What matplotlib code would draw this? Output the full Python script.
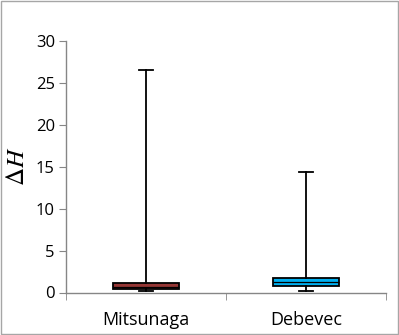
import matplotlib
matplotlib.use("Agg")
import matplotlib.pyplot as plt
from matplotlib.patches import Rectangle

categories = ["Mitsunaga", "Debevec"]
whisker_low = [0.15, 0.18]
q1 = [0.38, 0.75]
median = [0.7, 1.25]
q3 = [1.1, 1.73]
whisker_high = [26.6, 14.4]
fills = ["#943634", "#00B0F0"]
yticks = [0, 5, 10, 15, 20, 25, 30]

plt.rcParams['font.family'] = ['Open Sans', 'DejaVu Sans']
plt.rcParams['mathtext.fontset'] = 'stix'
fig = plt.figure(figsize=(3.99, 3.35), dpi=100)
ax = fig.add_axes([66/399, 1-292.5/335, 320/399, (292.5-41)/335])

stats = []
for i, c in enumerate(categories):
    stats.append(dict(label=c, whislo=whisker_low[i], q1=q1[i], med=median[i],
                      q3=q3[i], whishi=whisker_high[i], fliers=[]))
bp = ax.bxp(stats, positions=[1, 2], widths=0.41, patch_artist=True,
            showfliers=False,
            boxprops=dict(edgecolor='black', linewidth=1.3),
            medianprops=dict(color='black', linewidth=0.9),
            whiskerprops=dict(color='black', linewidth=1.3),
            capprops=dict(color='black', linewidth=1.3),
            capwidths=0.09)
for patch, col in zip(bp['boxes'], fills):
    patch.set_facecolor(col)

axcol = '#868686'
ax.set_xlim(0.5, 2.5)
ax.set_ylim(0, 30)
ax.set_yticks(yticks)
ax.set_xticks([1, 2])
ax.set_xticklabels(categories)
ax.set_xticks([0.5, 1.5, 2.5], minor=True)
ax.tick_params(axis='x', which='major', length=0, pad=13, labelsize=13)
ax.tick_params(axis='x', which='minor', length=5, color=axcol, direction='out')
ax.tick_params(axis='y', length=5, color=axcol, direction='out', labelsize=12, pad=3)
for s in ['top', 'right']:
    ax.spines[s].set_visible(False)
for s in ['left', 'bottom']:
    ax.spines[s].set_color(axcol)
    ax.spines[s].set_linewidth(1)
ax.set_ylabel(r'$\Delta H$', fontsize=18, labelpad=4)

fig.patches.append(Rectangle((0.0015, 0.0015), 0.997, 0.997, transform=fig.transFigure,
                             fill=False, edgecolor='#a6a6a6', linewidth=1))
fig.savefig("out.png", dpi=100)
